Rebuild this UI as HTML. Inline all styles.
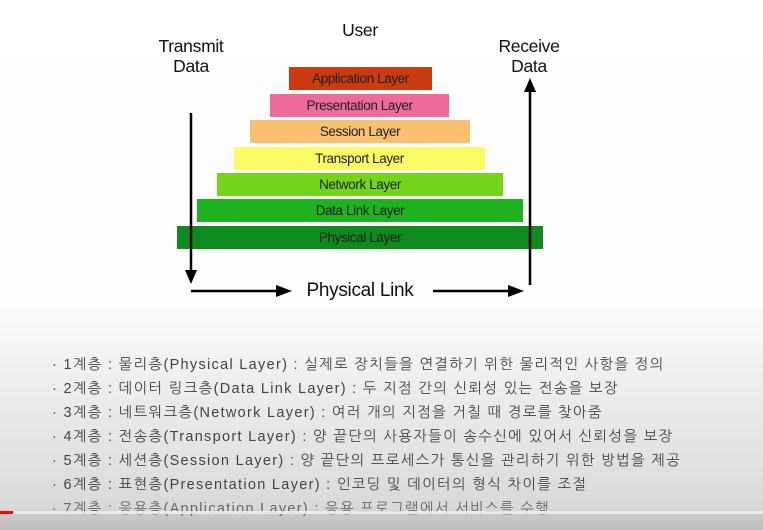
<!DOCTYPE html>
<html><head><meta charset="utf-8"><style>
body{margin:0;width:763px;height:530px;overflow:hidden;position:relative;
background:linear-gradient(#fff 0px,#fdfdfd 300px,#eeeeee 380px,#e2e2e2 460px,#d9d9d9 508px,#c9c9c9 515px,#bdbdbd 530px);
font-family:"Liberation Sans",Arial,sans-serif;}
.b{position:absolute;height:23px;line-height:23px;text-align:center;font-size:13.5px;color:#222;letter-spacing:-0.4px}
.t{position:absolute;font-size:17.5px;color:#111;text-align:center;line-height:20px;letter-spacing:-0.3px}
.k{position:absolute;left:52px;font-family:"Liberation Sans","NanumGothic","Noto Sans CJK KR",sans-serif;font-size:14.5px;color:#444;white-space:nowrap;letter-spacing:1.3px}
</style></head><body>
<div class="t" style="left:320px;top:20px;width:80px">User</div>
<div class="t" style="left:136px;top:36px;width:110px">Transmit<br>Data</div>
<div class="t" style="left:474px;top:36px;width:110px">Receive<br>Data</div>
<div class="b" style="left:289px;top:67px;width:143px;background:#cc3a0f">Application Layer</div>
<div class="b" style="left:270px;top:94px;width:179px;background:#ee6a9c">Presentation Layer</div>
<div class="b" style="left:250px;top:120px;width:220px;background:#f8c070">Session Layer</div>
<div class="b" style="left:234px;top:147px;width:251px;background:#fbfb66">Transport Layer</div>
<div class="b" style="left:217px;top:173px;width:286px;background:#74d41a">Network Layer</div>
<div class="b" style="left:197px;top:199px;width:326px;background:#1fb21f">Data Link Layer</div>
<div class="b" style="left:177px;top:226px;width:366px;background:#0f8a1e">Physical Layer</div>
<svg style="position:absolute;left:0;top:0" width="763" height="530">
<g stroke="#000" stroke-width="2.5" fill="#000">
<line x1="191" y1="113" x2="191" y2="272"/><polygon points="185,270 197,270 191,284" stroke="none"/>
<line x1="530" y1="285" x2="530" y2="90"/><polygon points="524,92 536,92 530,78" stroke="none"/>
<line x1="191" y1="291" x2="278" y2="291"/><polygon points="276,285 292,291 276,297" stroke="none"/>
<line x1="433" y1="291" x2="510" y2="291"/><polygon points="508,285 524,291 508,297" stroke="none"/>
</g></svg>
<div class="t" style="left:280px;top:281px;width:160px;font-size:19px">Physical Link</div>
<div class="k" style="top:356px">· 1계층 : 물리층(Physical Layer) : 실제로 장치들을 연결하기 위한 물리적인 사항을 정의</div>
<div class="k" style="top:380px">· 2계층 : 데이터 링크층(Data Link Layer) : 두 지점 간의 신뢰성 있는 전송을 보장</div>
<div class="k" style="top:404px">· 3계층 : 네트워크층(Network Layer) : 여러 개의 지점을 거칠 때 경로를 찾아줌</div>
<div class="k" style="top:428px">· 4계층 : 전송층(Transport Layer) : 양 끝단의 사용자들이 송수신에 있어서 신뢰성을 보장</div>
<div class="k" style="top:452px">· 5계층 : 세션층(Session Layer) : 양 끝단의 프로세스가 통신을 관리하기 위한 방법을 제공</div>
<div class="k" style="top:476px">· 6계층 : 표현층(Presentation Layer) : 인코딩 및 데이터의 형식 차이를 조절</div>
<div class="k" style="top:500px;color:#666">· 7계층 : 응용층(Application Layer) : 응용 프로그램에서 서비스를 수행</div>
<div style="position:absolute;left:0;top:511px;width:763px;height:3px;background:rgba(240,240,240,0.85)"></div>
<div style="position:absolute;left:0;top:511px;width:13px;height:3px;background:#f00"></div>
</body></html>
